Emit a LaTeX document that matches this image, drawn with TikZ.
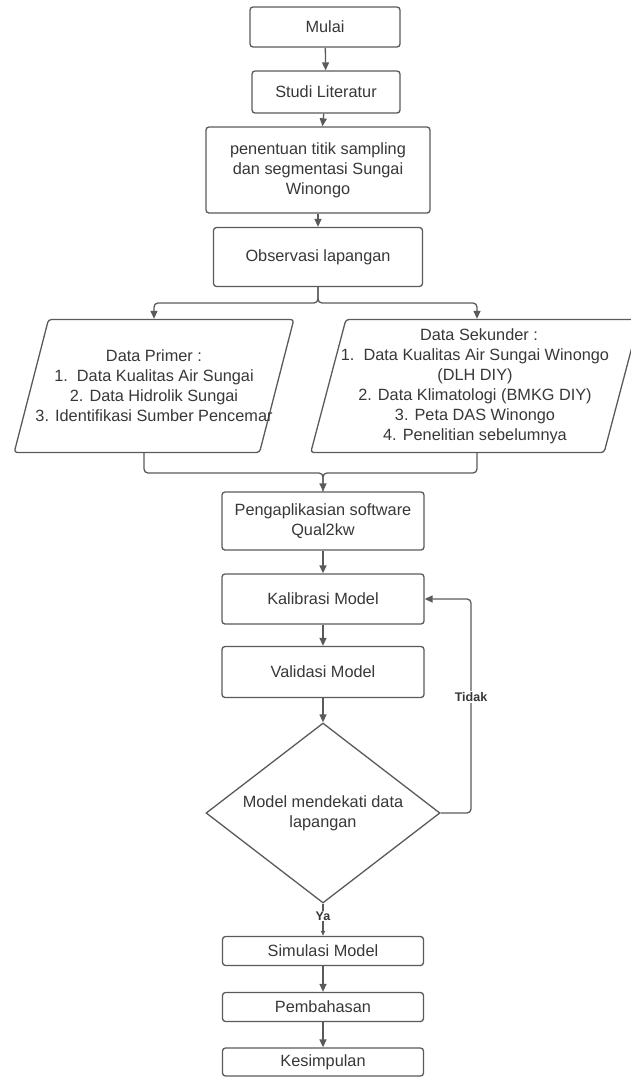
\documentclass[tikz,border=0pt]{standalone}
\usepackage{fontspec}
\setmainfont{Liberation Sans}
\usetikzlibrary{shapes.geometric, arrows.meta, calc}
\pgfdeclarelayer{edgelayer}
\pgfdeclarelayer{nodelayer}
\pgfsetlayers{edgelayer,nodelayer,main}
\definecolor{linegray}{HTML}{5A5A5A}
\definecolor{textgray}{HTML}{383838}
\tikzstyle{process}=[rectangle, rounded corners=3pt, draw=linegray, line width=1.3pt, fill=white, text=textgray, align=center, font=\fontsize{16.3}{20}\selectfont]
\tikzstyle{data}=[trapezium, trapezium left angle=75, trapezium right angle=105, trapezium stretches body=true, rounded corners=3pt, draw=linegray, line width=1.3pt, fill=white, text=textgray, align=center, font=\fontsize{16.3}{20}\selectfont, minimum height=133pt]
\tikzstyle{decision}=[diamond, aspect=1.3, draw=linegray, line width=1.3pt, fill=white, text=textgray, align=center, font=\fontsize{16.3}{20}\selectfont, minimum width=234pt, minimum height=180pt, inner sep=0pt]
\tikzstyle{edge}=[draw=linegray, line width=1.3pt]
\tikzstyle{arrow}=[draw=linegray, line width=1.3pt, -{Triangle[length=8pt, width=7pt]}]
\tikzstyle{tag}=[fill=white, text=textgray, font=\bfseries\fontsize{12.5}{14}\selectfont, inner sep=1pt]

\begin{document}
\begin{tikzpicture}[x=1pt, y=-1pt]
	\useasboundingbox (0, 0) rectangle (630, 1077);
	\begin{pgfonlayer}{nodelayer}
		\node [style=process, minimum width=150pt, minimum height=40pt] (mulai) at (325, 27) {Mulai};
		\node [style=process, minimum width=148pt, minimum height=42pt] (studi) at (326, 92) {Studi Literatur};
		\node [style=process, minimum width=224pt, minimum height=86pt] (penentuan) at (318, 170) {penentuan titik sampling\\dan segmentasi Sungai\\Winongo};
		\node [style=process, minimum width=209pt, minimum height=59pt] (observasi) at (318, 257) {Observasi lapangan};
		\node [style=data, inner ysep=28pt, inner xsep=-13pt, minimum width=246pt] (primer) at (154, 386) {Data Primer :\\1.\ \ Data Kualitas Air Sungai\\2. Data Hidrolik Sungai\\3. Identifikasi Sumber Pencemar};
		\node [style=data, inner ysep=8pt, inner xsep=-5pt, minimum width=293pt] (sekunder) at (475, 386) {\hspace*{8pt}Data Sekunder :\\1.\ \ Data Kualitas Air Sungai Winongo\\(DLH DIY)\\2. Data Klimatologi (BMKG DIY)\\3. Peta DAS Winongo\\4. Penelitian sebelumnya};
		\node [style=process, minimum width=202pt, minimum height=58pt] (aplikasi) at (323, 521) {Pengaplikasian software\\Qual2kw};
		\node [style=process, minimum width=202pt, minimum height=50pt] (kalibrasi) at (323, 599) {Kalibrasi Model};
		\node [style=process, minimum width=202pt, minimum height=51pt] (validasi) at (323, 672) {Validasi Model};
		\node [style=decision] (cek) at (323, 813) {Model mendekati data\\lapangan};
		\node [style=process, minimum width=201pt, minimum height=29pt] (simulasi) at (323, 951) {Simulasi Model};
		\node [style=process, minimum width=201pt, minimum height=29pt] (bahas) at (323, 1007) {Pembahasan};
		\node [style=process, minimum width=201pt, minimum height=28pt] (simpul) at (323, 1062) {Kesimpulan};
		\node [style=tag] (tidak) at (471, 697) {Tidak};
		\node [style=tag] (ya) at (323, 916) {Ya};
	\end{pgfonlayer}
	\begin{pgfonlayer}{edgelayer}
		\coordinate (split) at (318, 303);
		\coordinate (merge) at (323, 473);
		\draw [style=arrow] (mulai) to (studi);
		\draw [style=arrow] (studi) to (penentuan);
		\draw [style=arrow] (penentuan.south) to (penentuan.south |- observasi.north);
		\draw [style=arrow, rounded corners=4pt] (observasi.south) -- (split) -| (primer.center |- primer.north);
		\draw [style=arrow, rounded corners=4pt] (observasi.south) -- (split) -| ($(sekunder.center |- sekunder.north)+(2, 0)$);
		\draw [style=edge, rounded corners=4pt] ($(primer.center |- primer.south)+(-10, 0)$) |- (merge) -- (aplikasi.north);
		\draw [style=arrow, rounded corners=4pt] ($(sekunder.center |- sekunder.south)+(2, 0)$) |- (merge) -- (aplikasi.north);
		\draw [style=arrow] (aplikasi) to (kalibrasi);
		\draw [style=arrow] (kalibrasi) to (validasi);
		\draw [style=arrow] (validasi) to (cek);
		\draw [style=arrow, rounded corners=4pt] (cek.east) -| (tidak.center) |- (kalibrasi.east);
		\draw [style=arrow, -{Triangle[length=5pt, width=4pt]}] (cek.south) to (simulasi.north);
		\draw [style=arrow] (simulasi) to (bahas);
		\draw [style=arrow] (bahas) to (simpul);
	\end{pgfonlayer}
\end{tikzpicture}
\end{document}
